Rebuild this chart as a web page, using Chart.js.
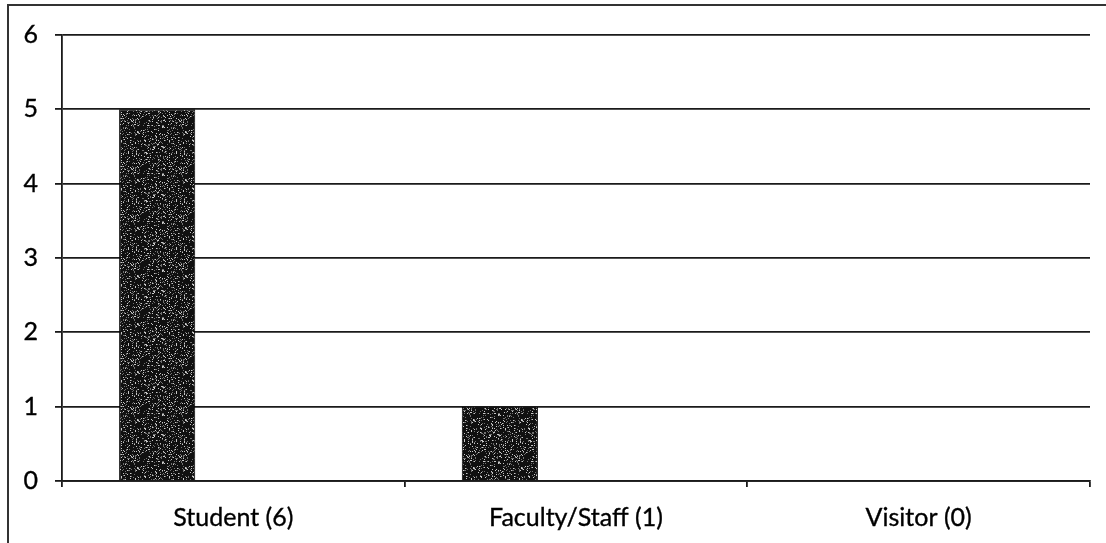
<!DOCTYPE html>
<html>
<head>
<meta charset="utf-8">
<script src="https://cdn.jsdelivr.net/npm/chart.js@4"></script>
<style>
  html, body { margin: 0; padding: 0; background: #fff; }
  #wrap { position: relative; width: 1106px; height: 543px; }
  canvas { display: block; }
</style>
</head>
<body>
<div id="wrap"><canvas id="chart" width="1106" height="543"></canvas></div>
<script>
// Respondent groups and counts
const categories = ['Student (6)', 'Faculty/Staff (1)', 'Visitor (0)'];
const responses = [5, 1, 0];
// Two unused series keep the three-column grouping of the source sheet
const unusedA = [null, null, null];
const unusedB = [null, null, null];
const yTicks = [0, 1, 2, 3, 4, 5, 6];

const FONT = 'Lato, "DejaVu Sans", sans-serif';

// Grainy dark fill for the bars (deterministic speckle)
function makeGrain() {
  const c = document.createElement('canvas');
  c.width = 48; c.height = 48;
  const g = c.getContext('2d');
  g.fillStyle = '#101010';
  g.fillRect(0, 0, 48, 48);
  let s = 12345;
  for (let y = 0; y < 48; y++) {
    for (let x = 0; x < 48; x++) {
      s = (s * 1103515245 + 12345) & 0x7fffffff;
      const v = s % 100;
      if (v < 18) {
        g.fillStyle = v < 7 ? '#c8c8c8' : '#707070';
        g.fillRect(x, y, 1, 1);
      }
    }
  }
  return g.createPattern(c, 'repeat');
}

// Outer frame along the left and top edges
const framePlugin = {
  id: 'frame',
  afterDraw(chart) {
    const ctx = chart.ctx;
    ctx.save();
    ctx.strokeStyle = '#333';
    ctx.lineWidth = 2;
    ctx.beginPath();
    ctx.moveTo(8, 543);
    ctx.lineTo(8, 5);
    ctx.lineTo(1106, 5);
    ctx.stroke();
    ctx.restore();
  }
};

const grain = makeGrain();

new Chart(document.getElementById('chart'), {
  type: 'bar',
  data: {
    labels: categories,
    datasets: [
      { data: responses, backgroundColor: grain, borderColor: '#000', borderWidth: 1 },
      { data: unusedA, backgroundColor: grain },
      { data: unusedB, backgroundColor: grain }
    ]
  },
  options: {
    responsive: false,
    animation: false,
    devicePixelRatio: 1,
    layout: { padding: { top: 35, right: 16, left: 0, bottom: 0 } },
    datasets: { bar: { categoryPercentage: 3 / 4.5, barPercentage: 1 } },
    plugins: { legend: { display: false }, tooltip: { enabled: false } },
    scales: {
      x: {
        offset: true,
        afterFit(scale) { scale.height = 62; },
        grid: {
          offset: true,
          drawOnChartArea: false,
          drawTicks: true,
          tickLength: 6,
          color: '#1a1a1a',
          lineWidth: 1.8
        },
        border: { display: true, color: '#1a1a1a', width: 1.8 },
        ticks: {
          color: '#000', font: { family: FONT, size: 25 }, padding: 16, maxRotation: 0,
          textStrokeColor: '#000', textStrokeWidth: 0.35
        }
      },
      y: {
        min: 0,
        max: 6,
        afterFit(scale) { scale.width = 62; },
        afterBuildTicks(scale) { scale.ticks = yTicks.map(v => ({ value: v })); },
        grid: { color: '#1a1a1a', lineWidth: 1.8, tickLength: 7, drawTicks: true },
        border: { display: true, color: '#1a1a1a', width: 1.8 },
        ticks: {
          color: '#000', font: { family: FONT, size: 25 }, padding: 17,
          textStrokeColor: '#000', textStrokeWidth: 0.35
        }
      }
    }
  },
  plugins: [framePlugin]
});
</script>
</body>
</html>
